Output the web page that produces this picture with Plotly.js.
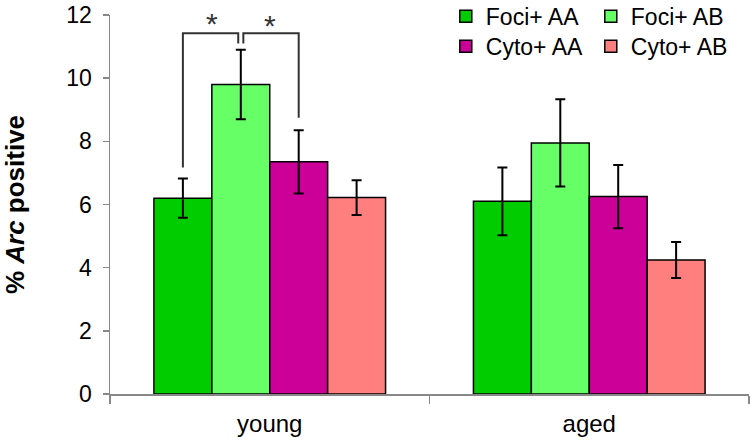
<!DOCTYPE html>
<html>
<head>
<meta charset="utf-8">
<script src="https://cdn.plot.ly/plotly-3.0.1.min.js"></script>
<style>html,body{margin:0;padding:0;background:#fff;}#chart{width:750px;height:441px;}</style>
</head>
<body>
<div id="chart"></div>
<script>
const groups = ['young', 'aged'];
const seriesNames = ['Foci+ AA', 'Foci+ AB', 'Cyto+ AA', 'Cyto+ AB'];
const seriesColors = ['#00CC00', '#66FF66', '#CC0099', '#FF7F7F'];
const fociAA = [6.2, 6.1];
const fociAB = [9.8, 7.95];
const cytoAA = [7.35, 6.25];
const cytoAB = [6.22, 4.24];
const errFociAA = [0.62, 1.07];
const errFociAB = [1.1, 1.38];
const errCytoAA = [1.0, 1.0];
const errCytoAB = [0.55, 0.57];
const values = [fociAA, fociAB, cytoAA, cytoAB];
const errors = [errFociAA, errFociAB, errCytoAA, errCytoAB];
const legendOf = ['legend', 'legend', 'legend2', 'legend2'];

const bargap = 0.275;

const traces = seriesNames.map((name, i) => ({
  type: 'bar',
  name: name,
  x: groups,
  y: values[i],
  legend: legendOf[i],
  marker: {color: seriesColors[i], line: {color: '#000', width: 1.5}},
  error_y: {type: 'data', array: errors[i], visible: true, color: '#000', thickness: 2, width: 5},
  hoverinfo: 'skip'
}));

// bar centres within the "young" group, derived from the bar layout
const groupW = 1 - bargap;
const barW = groupW / seriesNames.length;
const centre = i => -groupW / 2 + barW * (i + 0.5);
const gap = 0.008;
const brTop = 11.42, brMid = 11.1;
const leftBottom = fociAA[0] + errFociAA[0] + 0.35;
const rightBottom = cytoAA[0] + errCytoAA[0] + 0.4;
const lineStyle = {color: '#333', width: 2};
const shapes = [
  {type: 'path', xref: 'x', yref: 'y', line: lineStyle,
   path: `M${centre(0)},${leftBottom} L${centre(0)},${brTop} L${centre(1) - gap},${brTop} L${centre(1) - gap},${brMid}`},
  {type: 'path', xref: 'x', yref: 'y', line: lineStyle,
   path: `M${centre(1) + gap},${brMid} L${centre(1) + gap},${brTop} L${centre(2)},${brTop} L${centre(2)},${rightBottom}`}
];
const annotations = [
  {xref: 'x', yref: 'y', x: (centre(0) + centre(1)) / 2, y: 11.72, text: '*', showarrow: false,
   font: {family: 'Liberation Sans, Arial', size: 30, color: '#333'}},
  {xref: 'x', yref: 'y', x: (centre(1) + centre(2)) / 2, y: 11.68, text: '*', showarrow: false,
   font: {family: 'Liberation Sans, Arial', size: 30, color: '#333'}}
];

const legendBase = {orientation: 'h', x: 0.5255, xanchor: 'left', yanchor: 'top',
  entrywidth: 100, entrywidthmode: 'pixels', traceorder: 'normal',
  font: {size: 23, color: '#000'}, bgcolor: 'rgba(0,0,0,0)'};

const layout = {
  width: 750, height: 441,
  margin: {l: 110, r: 1, t: 15, b: 47, autoexpand: false},
  paper_bgcolor: '#fff', plot_bgcolor: '#fff',
  barmode: 'group', bargap: bargap, bargroupgap: 0,
  font: {family: 'Liberation Sans, Arial, sans-serif', color: '#000'},
  showlegend: true,
  legend: Object.assign({}, legendBase, {y: 1.053}),
  legend2: Object.assign({}, legendBase, {y: 0.974}),
  xaxis: {type: 'category', range: [-0.5, 1.5], showline: true, linecolor: '#888', linewidth: 1.5,
          ticks: 'outside', tickson: 'boundaries', ticklen: 8, tickcolor: '#888', tickwidth: 1.5,
          ticklabelstandoff: 8, automargin: false,
          showgrid: false, zeroline: false, tickfont: {size: 24, color: '#000'}, fixedrange: true},
  yaxis: {range: [0, 12], dtick: 2, showline: true, linecolor: '#888', linewidth: 1.5,
          ticks: 'outside', ticklen: 6, tickcolor: '#888', tickwidth: 1.5, ticklabelstandoff: 6,
          showgrid: false, zeroline: false, tickfont: {size: 23, color: '#000'}, automargin: false,
          title: {text: '<b>% <i>Arc</i> positive</b>', font: {size: 26, color: '#000'}, standoff: 34},
          fixedrange: true},
  shapes: shapes,
  annotations: annotations
};

Plotly.newPlot('chart', traces, layout, {displayModeBar: false, staticPlot: true});
</script>
</body>
</html>
